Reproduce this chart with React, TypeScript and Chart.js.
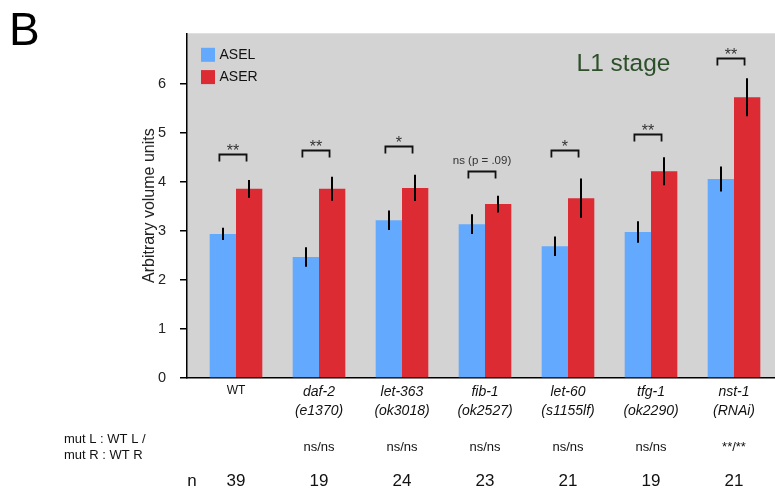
import React, { useEffect, useRef } from 'react';
import { Chart, registerables } from 'chart.js';

Chart.register(...registerables);

const categories = ['WT', 'daf-2', 'let-363', 'fib-1', 'let-60', 'tfg-1', 'nst-1'];
const alleles = ['', '(e1370)', '(ok3018)', '(ok2527)', '(s1155lf)', '(ok2290)', '(RNAi)'];
const aselValues = [2.94, 2.47, 3.22, 3.14, 2.69, 2.98, 4.06];
const aselErrors = [0.125, 0.2, 0.2, 0.2, 0.2, 0.22, 0.255];
const aserValues = [3.86, 3.86, 3.88, 3.55, 3.67, 4.22, 5.73];
const aserErrors = [0.18, 0.245, 0.27, 0.17, 0.4, 0.285, 0.39];
const sigLabels = ['**', '**', '*', 'ns (p = .09)', '*', '**', '**'];
const sigLevels = [4.57, 4.65, 4.73, 4.22, 4.65, 4.97, 6.54];
const mutVsWt = ['', 'ns/ns', 'ns/ns', 'ns/ns', 'ns/ns', 'ns/ns', '**/**'];
const nCounts = ['39', '19', '24', '23', '21', '19', '21'];
const yTicks = [0, 1, 2, 3, 4, 5, 6];

const FONT = "'Liberation Sans', Arial, sans-serif";
const BLUE = '#63a9fd';
const RED = '#dd2b33';

const decor = {
  id: 'decor',
  beforeDraw(chart: any) {
    const { ctx, chartArea: a } = chart;
    ctx.save();
    ctx.fillStyle = '#d3d3d3';
    ctx.fillRect(a.left, a.top, 775 - a.left, a.bottom - a.top);
    ctx.restore();
  },
  afterDatasetsDraw(chart: any) {
    const { ctx } = chart;
    const xs = chart.scales.x;
    const ys = chart.scales.y;
    const errs = [aselErrors, aserErrors];
    const vals = [aselValues, aserValues];
    ctx.save();
    ctx.strokeStyle = '#000';
    ctx.lineWidth = 2;
    for (let d = 0; d < 2; d++) {
      const meta = chart.getDatasetMeta(d);
      meta.data.forEach((el: any, i: number) => {
        const x = Math.round(el.x);
        ctx.beginPath();
        ctx.moveTo(x, ys.getPixelForValue(vals[d][i] - errs[d][i]));
        ctx.lineTo(x, ys.getPixelForValue(vals[d][i] + errs[d][i]));
        ctx.stroke();
      });
    }
    // significance brackets
    const w = xs.getPixelForValue(1) - xs.getPixelForValue(0);
    ctx.lineWidth = 1.8;
    ctx.strokeStyle = '#111';
    sigLevels.forEach((lvl, i) => {
      const c = xs.getPixelForValue(i);
      const x1 = c - 0.2 * w;
      const x2 = c + 0.127 * w;
      const y = Math.round(ys.getPixelForValue(lvl)) + 0.5;
      ctx.beginPath();
      ctx.moveTo(x1, y + 7);
      ctx.lineTo(x1, y);
      ctx.lineTo(x2, y);
      ctx.lineTo(x2, y + 7);
      ctx.stroke();
      const lab = sigLabels[i];
      ctx.fillStyle = '#333';
      ctx.textAlign = 'center';
      ctx.textBaseline = 'alphabetic';
      if (lab.indexOf('*') >= 0) {
        ctx.font = `16px ${FONT}`;
        ctx.fillText(lab, (x1 + x2) / 2, y + 1.5);
      } else {
        ctx.font = `11.5px ${FONT}`;
        ctx.fillText(lab, (x1 + x2) / 2, y - 8);
      }
    });
    ctx.restore();
  },
  afterDraw(chart: any) {
    const { ctx, chartArea: a } = chart;
    const xs = chart.scales.x;
    ctx.save();
    // legend
    const items = [
      { label: 'ASEL', color: BLUE },
      { label: 'ASER', color: RED },
    ];
    items.forEach((it, k) => {
      const top = a.top + 14.5 + k * 22.3;
      ctx.fillStyle = it.color;
      ctx.fillRect(a.left + 14, top, 14, 14);
      ctx.fillStyle = '#111';
      ctx.font = `14px ${FONT}`;
      ctx.textAlign = 'left';
      ctx.textBaseline = 'middle';
      ctx.fillText(it.label, a.left + 32.5, top + 7.5);
    });
    // stage label
    ctx.fillStyle = '#2d4f2a';
    ctx.font = `24.5px ${FONT}`;
    ctx.textAlign = 'center';
    ctx.textBaseline = 'alphabetic';
    ctx.fillText('L1 stage', 623.5, 70.5);
    // panel letter
    ctx.fillStyle = '#000';
    ctx.font = `46px ${FONT}`;
    ctx.textAlign = 'left';
    ctx.fillText('B', 9, 45);
    // bottom rows
    ctx.fillStyle = '#111';
    ctx.font = `13px ${FONT}`;
    ctx.textBaseline = 'middle';
    ctx.fillText('mut L : WT L /', 64, 439);
    ctx.fillText('mut R : WT R', 64, 455);
    ctx.textAlign = 'center';
    mutVsWt.forEach((t, i) => {
      if (t) ctx.fillText(t, xs.getPixelForValue(i), 447);
    });
    ctx.font = `17px ${FONT}`;
    ctx.fillText('n', 192, 481);
    nCounts.forEach((t, i) => {
      ctx.fillText(t, xs.getPixelForValue(i), 481);
    });
    ctx.restore();
  },
};

export default function App() {
  const ref = useRef<HTMLCanvasElement>(null);
  useEffect(() => {
    if (!ref.current) return;
    const chart = new Chart(ref.current, {
      type: 'bar',
      data: {
        datasets: [
          {
            label: 'ASEL',
            data: aselValues.map((v, i) => ({ x: i, y: v })),
            backgroundColor: BLUE,
            borderWidth: 0,
            categoryPercentage: 0.634,
            barPercentage: 1,
          },
          {
            label: 'ASER',
            data: aserValues.map((v, i) => ({ x: i, y: v })),
            backgroundColor: RED,
            borderWidth: 0,
            categoryPercentage: 0.634,
            barPercentage: 1,
          },
        ],
      } as any,
      options: {
        responsive: false,
        animation: false,
        devicePixelRatio: 1,
        layout: { padding: { left: 140.4, top: 33.3, right: 0, bottom: 0 } },
        plugins: { legend: { display: false }, tooltip: { enabled: false } },
        scales: {
          x: {
            type: 'linear',
            offset: false,
            min: -0.5904,
            max: 6.4939,
            afterBuildTicks: (s: any) => {
              s.ticks = categories.map((_, i) => ({ value: i }));
            },
            afterFit: (s: any) => {
              s.height = 113;
            },
            ticks: {
              autoSkip: false,
              maxRotation: 0,
              padding: 5,
              color: '#111',
              callback: (_v: any, i: number) =>
                i === 0 ? categories[i] : [categories[i], alleles[i]],
              font: (ctx: any) =>
                ctx.index === 0
                  ? { family: FONT, size: 12, lineHeight: 1.35 }
                  : { family: FONT, size: 14, style: 'italic', lineHeight: 1.35 },
            },
            grid: { display: false, drawTicks: false },
            border: { display: true, color: '#000', width: 1.5 },
          },
          y: {
            type: 'linear',
            min: 0,
            max: 7.035,
            afterBuildTicks: (s: any) => {
              s.ticks = yTicks.map((v) => ({ value: v }));
            },
            afterFit: (s: any) => {
              s.width = 187 - 140.4;
            },
            ticks: {
              padding: 14,
              color: '#222',
              font: { family: FONT, size: 14.5 },
            },
            grid: {
              display: true,
              drawOnChartArea: false,
              drawTicks: true,
              tickLength: 7,
              color: '#000',
              lineWidth: 1.5,
            },
            border: { display: true, color: '#000', width: 1.5 },
            title: {
              display: true,
              text: 'Arbitrary volume units',
              color: '#222',
              font: { family: FONT, size: 16 },
              padding: 0,
            },
          },
        },
      } as any,
      plugins: [decor],
    });
    return () => chart.destroy();
  }, []);
  return (
    <div style={{ position: 'fixed', left: 0, top: 0, width: 775, height: 491, background: '#fff' }}>
      <canvas ref={ref} width={775} height={491} style={{ display: 'block' }} />
    </div>
  );
}
